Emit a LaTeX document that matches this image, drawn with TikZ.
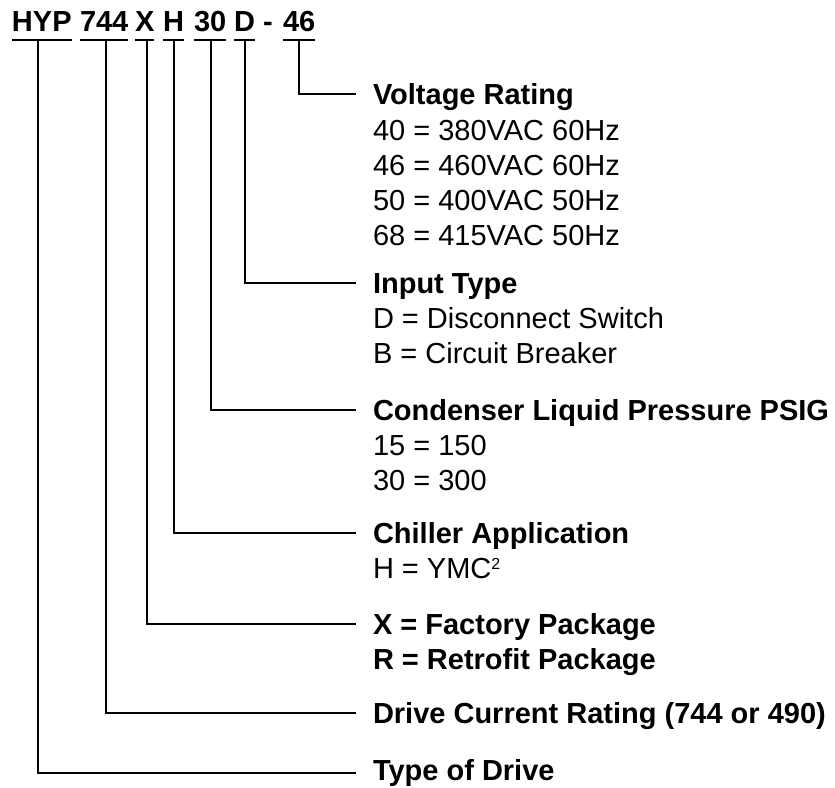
\documentclass[tikz,border=0pt]{standalone}
\usepackage{fontspec}
\setmainfont{Liberation Sans}
\begin{document}
\begin{tikzpicture}[x=1pt,y=-1pt,
  txt/.style={anchor=base west,inner sep=0pt,outer sep=0pt,font=\fontsize{29}{35}\selectfont},
  hd/.style={txt,font=\fontsize{29}{35}\selectfont\bfseries},
  code/.style={hd},
  uline/.style={line width=2pt},
  conn/.style={line width=2pt,line join=miter}]
\useasboundingbox[fill=white] (0,0) rectangle (835,787);
% code
\node[code] (hyp) at (12,31.5) {HYP};
\node[code] (c744) at (80,31.5) {744};
\node[code] (cx) at (135,31.5) {X};
\node[code] (ch) at (163,31.5) {H};
\node[code] (c30) at (194,31.5) {30};
\node[code] (cd) at (234,31.5) {D};
\node[code] (cdash) at (263,31.5) {-};
\node[code] (c46) at (283,31.5) {46};
\foreach \n in {hyp,c744,cx,ch,c30,cd,c46}
  \draw[uline] ([yshift=-8pt]\n.base west) -- ([yshift=-8pt]\n.base east);
% labels
\node[hd] (vr) at (373,104) {Voltage Rating};
\node[txt] (vr1) at (373,140) {40 = 380VAC 60Hz};
\node[txt] (vr2) at (373,175) {46 = 460VAC 60Hz};
\node[txt] (vr3) at (373,210) {50 = 400VAC 50Hz};
\node[txt] (vr4) at (373,245) {68 = 415VAC 50Hz};
\node[hd] (it) at (373,293) {Input Type};
\node[txt] (it1) at (373,328) {D = Disconnect Switch};
\node[txt] (it2) at (373,363) {B = Circuit Breaker};
\node[hd] (cl) at (373,420) {Condenser Liquid Pressure PSIG};
\node[txt] (cl1) at (373,455) {15 = 150};
\node[txt] (cl2) at (373,490) {30 = 300};
\node[hd] (ca) at (373,543) {Chiller Application};
\node[txt] (ca1) at (373,578) {H = YMC\raisebox{9pt}{\fontsize{16}{16}\selectfont 2}};
\node[hd] (fp) at (373,634) {X = Factory Package};
\node[hd] (rp) at (373,669) {R = Retrofit Package};
\node[hd] (dc) at (373,723) {Drive Current Rating (744 or 490)};
\node[hd] (td) at (373,780.5) {Type of Drive};
% connectors
\draw[conn] ([yshift=-9pt]c46.base) |- ([xshift=-17pt,yshift=10pt]vr.base west);
\draw[conn] ([xshift=1pt,yshift=-9pt]cd.base) |- ([xshift=-17pt,yshift=10pt]it.base west);
\draw[conn] ([xshift=1pt,yshift=-9pt]c30.base) |- ([xshift=-17pt,yshift=10pt]cl.base west);
\draw[conn] ([xshift=1pt,yshift=-9pt]ch.base) |- ([xshift=-17pt,yshift=10pt]ca.base west);
\draw[conn] ([xshift=2pt,yshift=-9pt]cx.base) |- ([xshift=-17pt,yshift=10pt]fp.base west);
\draw[conn] ([xshift=2pt,yshift=-9pt]c744.base) |- ([xshift=-17pt,yshift=10pt]dc.base west);
\draw[conn] ([xshift=-3.5pt,yshift=-9pt]hyp.base) |- ([xshift=-17pt,yshift=7.5pt]td.base west);
\end{tikzpicture}
\end{document}
